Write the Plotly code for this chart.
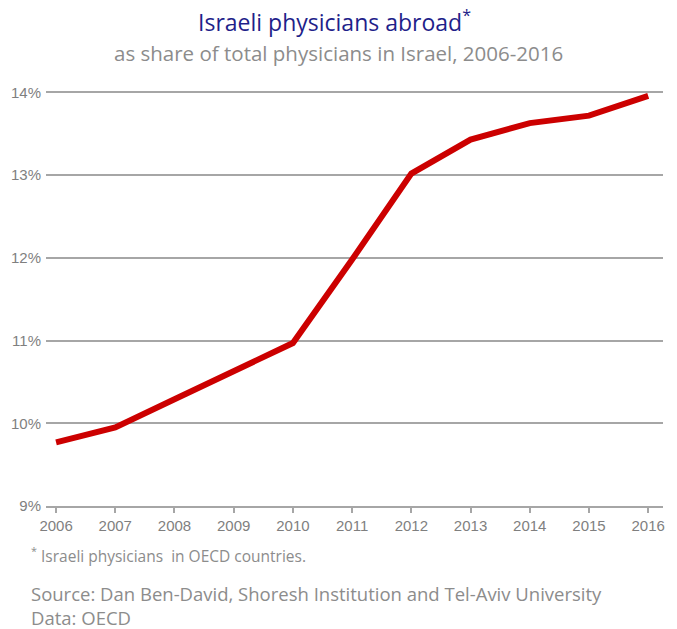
import plotly.graph_objects as go

# Israeli physicians working in OECD countries, % of all physicians in Israel
years = [2006, 2007, 2008, 2009, 2010, 2011, 2012, 2013, 2014, 2015, 2016]
share_pct = [9.77, 9.95, 10.29, 10.63, 10.97, 11.98, 13.02, 13.43, 13.63, 13.72, 13.96]

y_ticks = [9, 10, 11, 12, 13, 14]
y_tick_labels = ["9%", "10%", "11%", "12%", "13%", "14%"]

title_text = "Israeli physicians abroad<sup>*</sup>"
subtitle_text = "as share of total physicians in Israel, 2006-2016"
footnote_text = "<sup>*</sup> Israeli physicians  in OECD countries."
source_text = "Source: Dan Ben-David, Shoresh Institution and Tel-Aviv University"
data_text = "Data: OECD"

GRID = "#A6A6A6"
TICK_FONT = dict(family="Liberation Sans, Arial", size=15, color="#7F7F7F")
TEXT_FONT = "Open Sans, sans-serif"

# plot area in pixels
ML, MR, MT, MB = 46, 14, 90, 123
W, H = 677, 629
plot_w = W - ML - MR
plot_h = H - MT - MB

fig = go.Figure()
fig.add_trace(go.Scatter(
    x=years, y=share_pct, mode="lines",
    line=dict(color="#CC0000", width=6),
    hoverinfo="x+y",
))

fig.update_layout(
    width=W, height=H,
    margin=dict(l=ML, r=MR, t=MT, b=MB),
    paper_bgcolor="white", plot_bgcolor="white",
    showlegend=False,
    xaxis=dict(
        range=[2005.83, 2016.25],
        tickvals=years, ticktext=[str(y) for y in years],
        showgrid=False, zeroline=False,
        showline=True, linecolor=GRID, linewidth=2,
        ticks="outside", ticklen=5, tickwidth=1.5, tickcolor=GRID,
        tickfont=TICK_FONT,
    ),
    yaxis=dict(
        range=[9, 14.03],
        tickvals=y_ticks, ticktext=y_tick_labels,
        showgrid=True, gridcolor=GRID, gridwidth=2,
        zeroline=False, showline=False, ticks="",
        ticklabelstandoff=4,
        tickfont=TICK_FONT,
    ),
)


def px_to_paper(px, py):
    return (px - ML) / plot_w, 1 - (py - MT) / plot_h


texts = [
    (title_text, (334, 21), "center", dict(size=23, color="#1F1F8A")),
    (subtitle_text, (338, 53), "center", dict(size=20.5, color="#8C8C8C")),
    (footnote_text, (29, 555), "left", dict(size=15.5, color="#8C8C8C")),
    (source_text, (29, 593), "left", dict(size=18.5, color="#8C8C8C")),
    (data_text, (29, 617), "left", dict(size=18.5, color="#8C8C8C")),
]
for txt, (px, py), xa, f in texts:
    x, y = px_to_paper(px, py)
    fig.add_annotation(
        text=txt, xref="paper", yref="paper", x=x, y=y,
        xanchor=xa, yanchor="middle", showarrow=False, align="left",
        font=dict(family=TEXT_FONT, **f),
    )

fig.write_html("out.html")
